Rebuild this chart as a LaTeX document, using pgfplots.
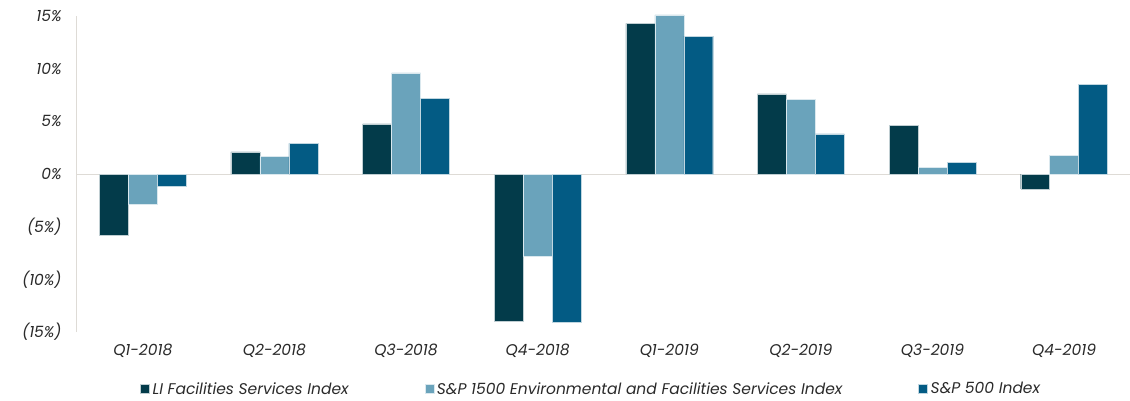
\documentclass[border=0pt]{standalone}
\usepackage{fontspec}
\setmainfont{Poppins}
\usepackage{pgfplots}
\pgfplotsset{compat=1.18}
\definecolor{cLI}{HTML}{033B4A}
\definecolor{cEF}{HTML}{6AA3BB}
\definecolor{cSP}{HTML}{035B84}
\definecolor{axgray}{HTML}{DEDBD6}
\definecolor{txt}{HTML}{2A2A2A}
\begin{document}
\begin{tikzpicture}[x=1pt,y=1pt]
\path[use as bounding box] (-77,-68) rectangle (1053,332);
\begin{axis}[
  at={(0,0)}, anchor=south west,
  width=1053pt, height=316pt, scale only axis,
  xmin=-0.5, xmax=7.5, ymin=-15, ymax=15,
  clip=false,
  axis line style={draw=none},
  tick style={draw=none},
  ytick={-15,-10,-5,0,5,10,15},
  yticklabels={(15\%),(10\%),(5\%),0\%,5\%,10\%,15\%},
  xtick={0,1,2,3,4,5,6,7},
  xticklabels={Q1-2018,Q2-2018,Q3-2018,Q4-2018,Q1-2019,Q2-2019,Q3-2019,Q4-2019},
  ticklabel style={font=\fontsize{15.5}{18}\selectfont\itshape, text=txt},
  yticklabel style={xshift=-12pt},
  xticklabel style={yshift=-4pt},
  ybar=0pt, bar width=0.22,
  legend columns=3,
  legend style={at={(0.057,-0.18)}, anchor=west, draw=none, fill=none,
    font=\fontsize{15.5}{18}\selectfont\itshape, text=txt,
    /tikz/every odd column/.append style={column sep=1pt},
    /tikz/every even column/.append style={column sep=74pt}},
  legend image code/.code={\fill[#1] (0pt,-4.5pt) rectangle (9pt,4.5pt);},
]
\draw[axgray, line width=1pt] (axis cs:-0.5,0) -- (axis cs:7.5,0);
\draw[axgray, line width=1pt] (axis cs:-0.5,-15) -- (axis cs:-0.5,15);
\addplot[fill=cLI, draw=white!75!cLI, line width=0.4pt] coordinates {
 (0,-5.8) (1,2.1) (2,4.75) (3,-14.0) (4,14.3) (5,7.6) (6,4.65) (7,-1.4)};
\addplot[fill=cEF, draw=white!75!cEF, line width=0.4pt] coordinates {
 (0,-2.9) (1,1.7) (2,9.6) (3,-7.8) (4,15.1) (5,7.1) (6,0.6) (7,1.8)};
\addplot[fill=cSP, draw=white!75!cSP, line width=0.4pt] coordinates {
 (0,-1.2) (1,2.9) (2,7.2) (3,-14.1) (4,13.1) (5,3.8) (6,1.1) (7,8.5)};
\legend{LI Facilities Services Index, S\&P 1500 Environmental and Facilities Services Index, S\&P 500 Index}
\end{axis}
\end{tikzpicture}
\end{document}
